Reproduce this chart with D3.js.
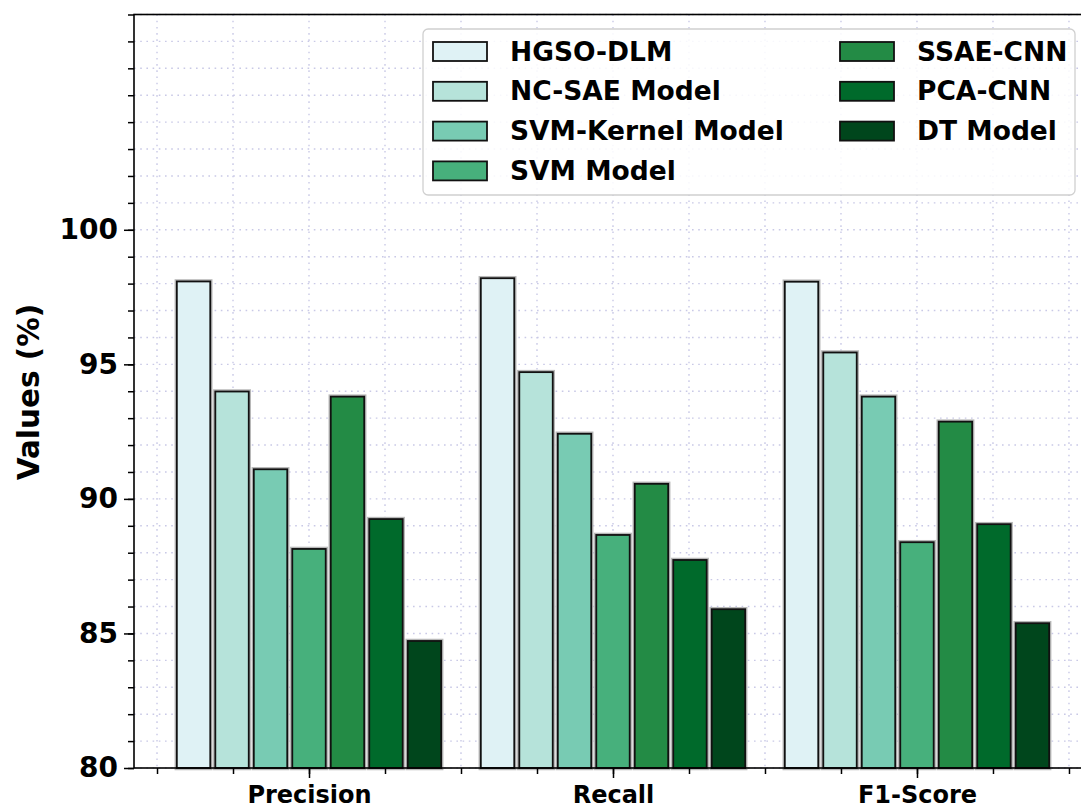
<!DOCTYPE html>
<html><head><meta charset="utf-8">
<script src="https://cdn.jsdelivr.net/npm/d3@7"></script>
<style>
html,body{margin:0;padding:0;background:#fff;}
svg{display:block;font-family:"DejaVu Sans",sans-serif;font-weight:bold;}
</style></head>
<body><svg id="c" width="1081" height="808"></svg>
<script>
const categories = ["Precision", "Recall", "F1-Score"];
const models = ["HGSO-DLM", "NC-SAE Model", "SVM-Kernel Model", "SVM Model", "SSAE-CNN", "PCA-CNN", "DT Model"];
const hgso      = [98.08, 98.20, 98.07];
const ncsae     = [93.99, 94.71, 95.44];
const svmKernel = [91.10, 92.42, 93.80];
const svm       = [88.14, 88.66, 88.39];
const ssaeCnn   = [93.80, 90.56, 92.87];
const pcaCnn    = [89.25, 87.73, 89.06];
const dt        = [84.72, 85.90, 85.38];
const series = [hgso, ncsae, svmKernel, svm, ssaeCnn, pcaCnn, dt];
const colors = ["#dff2f5", "#b6e3da", "#78cbb3", "#47b07c", "#238b45", "#006a2b", "#00461c"];
const yMajor = [80, 85, 90, 95, 100];

const svg = d3.select("#c");
const L = 134, R = 1086, T = 14.5, B = 768;
const x = d3.scaleLinear().domain([-0.5757, 2.556]).range([L, R]);
const y = d3.scaleLinear().domain([80, 108]).range([B, T]);
const barStep = 0.1266, barW = 0.11;

// grid
const xMinor = d3.range(-0.5, 2.51, 0.25);
const yMinor = d3.range(80, 108.01, 1);
const grid = svg.append("g");
grid.selectAll("line.gy").data(yMinor).join("line")
  .attr("x1", L).attr("x2", R).attr("y1", d => y(d)).attr("y2", d => y(d))
  .attr("stroke", "#c9c9e6").attr("stroke-width", 1.4).attr("stroke-dasharray", "1.6,4.6");
grid.selectAll("line.gx").data(xMinor).join("line")
  .attr("x1", d => x(d)).attr("x2", d => x(d)).attr("y1", T).attr("y2", B)
  .attr("stroke", "#c9c9e6").attr("stroke-width", 1.4).attr("stroke-dasharray", "1.6,4.6");

// bars
const bars = svg.append("g");
series.forEach((vals, si) => {
  const g = bars.append("g");
  const off = (si - 3) * barStep;
  g.selectAll("rect.h").data(vals).join("rect")
    .attr("x", (d, i) => x(i + off - barW / 2)).attr("width", x(barW) - x(0))
    .attr("y", d => y(d)).attr("height", d => y(80) - y(d))
    .attr("fill", "none").attr("stroke", "#b8b8b8").attr("stroke-width", 4.5);
});
series.forEach((vals, si) => {
  const g = bars.append("g");
  const off = (si - 3) * barStep;
  g.selectAll("rect.b").data(vals).join("rect")
    .attr("x", (d, i) => x(i + off - barW / 2)).attr("width", x(barW) - x(0))
    .attr("y", d => y(d)).attr("height", d => y(80) - y(d))
    .attr("fill", colors[si]).attr("stroke", "#111").attr("stroke-width", 1.8);
});

// axes
const yAxisMinor = d3.axisLeft(y).tickValues(yMinor).tickSize(6).tickFormat("");
const yAxis = d3.axisLeft(y).tickValues(yMajor).tickSize(10).tickPadding(6).tickFormat(d3.format("d"));
const xAxisMinor = d3.axisBottom(x).tickValues(xMinor).tickSize(6).tickFormat("");
const xAxis = d3.axisBottom(x).tickValues([0, 1, 2]).tickSize(10).tickPadding(8).tickFormat(i => categories[i]);
[yAxisMinor, yAxis].forEach(a => {
  const g = svg.append("g").attr("transform", `translate(${L},0)`).call(a);
  g.select(".domain").remove();
  g.selectAll(".tick line").attr("stroke", "#000").attr("stroke-width", 1.5);
  g.selectAll("text").attr("font-size", 28).attr("font-weight", "bold").attr("fill", "#000")
    .attr("font-family", "DejaVu Sans");
});
[xAxisMinor, xAxis].forEach(a => {
  const g = svg.append("g").attr("transform", `translate(0,${B})`).call(a);
  g.select(".domain").remove();
  g.selectAll(".tick line").attr("stroke", "#000").attr("stroke-width", 1.5);
  g.selectAll("text").attr("font-size", 24).attr("font-weight", "bold").attr("fill", "#000")
    .attr("font-family", "DejaVu Sans");
});

// spines
svg.append("rect").attr("x", L).attr("y", T).attr("width", R - L).attr("height", B - T)
  .attr("fill", "none").attr("stroke", "#000").attr("stroke-width", 1.6);

// y label
svg.append("text").attr("transform", `translate(39,392) rotate(-90)`)
  .attr("text-anchor", "middle").attr("font-size", 29.5).attr("fill", "#000").text("Values (%)");

// legend
const lg = svg.append("g");
lg.append("rect").attr("x", 423).attr("y", 29).attr("width", 652).attr("height", 166).attr("rx", 5)
  .attr("fill", "#fff").attr("fill-opacity", 0.85).attr("stroke", "#d0d0d0").attr("stroke-width", 1.3);
models.forEach((m, i) => {
  const col = i < 4 ? 0 : 1, row = i < 4 ? i : i - 4;
  const px = col === 0 ? 433 : 840, ty = 51.5 + row * 39.8;
  lg.append("rect").attr("x", px).attr("y", ty - 9.5).attr("width", 54).attr("height", 19)
    .attr("fill", colors[i]).attr("stroke", "#111").attr("stroke-width", 1.8);
  lg.append("text").attr("x", px + 77).attr("y", ty + 9).attr("font-size", 26.5).attr("fill", "#000").text(m);
});
</script></body></html>
